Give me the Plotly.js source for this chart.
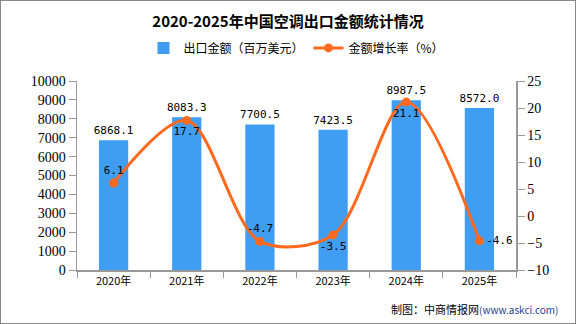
<!DOCTYPE html>
<html><head><meta charset="utf-8">
<script src="https://cdn.plot.ly/plotly-3.0.1.min.js"></script>
<style>html,body{margin:0;padding:0;background:#fff}#c{width:576px;height:324px;box-sizing:border-box;border:1px solid #888}</style>
</head><body><div id="c"></div>
<script>
const years = ["2020年","2021年","2022年","2023年","2024年","2025年"];
const exportValue = [6868.1, 8083.3, 7700.5, 7423.5, 8987.5, 8572.0];
const growthRate = [6.1, 17.7, -4.7, -3.5, 21.1, -4.6];
const growthPos = ["top center","bottom center","top center","bottom center","bottom center","middle right"];

const bar = {
  type:"bar", x:years, y:exportValue, name:"出口金额（百万美元）",
  marker:{color:"#409EF2"}, width:0.4,
  text:exportValue.map(v=>v.toFixed(1)), textposition:"outside", cliponaxis:false, constraintext:"none",
  textfont:{family:"DejaVu Sans Mono", size:11, color:"#000"}, hoverinfo:"none"
};
const line = {
  type:"scatter", mode:"lines+markers+text", x:years, y:growthRate, yaxis:"y2",
  name:"金额增长率（%）",
  line:{color:"#FF6A1F", width:3, shape:"spline", smoothing:0.9},
  marker:{color:"#FF6A1F", size:9},
  text:growthRate.map(v=>v.toFixed(1)), textposition:growthPos, cliponaxis:false,
  textfont:{family:"DejaVu Sans Mono", size:11, color:"#000"}
};
const layout = {
  width:574, height:322,
  margin:{l:76, r:59, t:80, b:53},
  paper_bgcolor:"#fff", plot_bgcolor:"rgba(0,0,0,0)",
  title:{text:"<b>2020-2025年中国空调出口金额统计情况</b>", x:0.5, xanchor:"center", y:0.935, yanchor:"middle",
    font:{family:"Noto Sans CJK SC", size:15, color:"#000"}},
  showlegend:true,
  legend:{orientation:"h", x:0.5, xanchor:"center", y:1.175, yanchor:"middle",
    font:{family:"Noto Sans CJK SC", size:12, color:"#000"}, traceorder:"normal"},
  xaxis:{type:"category", showline:true, linecolor:"#999", linewidth:1.5, ticks:"outside", tickson:"boundaries",
    ticklen:6, tickcolor:"#999", tickfont:{family:"Noto Sans CJK SC", size:11, color:"#000"}, showgrid:false},
  yaxis:{range:[0,10000], dtick:1000, tickformat:"d", showline:true, linecolor:"#999", linewidth:1.5, ticks:"outside", ticklen:7,
    tickcolor:"#999", showgrid:false, zeroline:false, tickfont:{family:"Liberation Serif", size:14, color:"#000"}},
  yaxis2:{range:[-10,25], dtick:5, overlaying:"y", side:"right", showline:true, linecolor:"#999", linewidth:1.5,
    ticks:"outside", ticklen:7, tickcolor:"#999", showgrid:false, zeroline:false,
    tickfont:{family:"Liberation Serif", size:14, color:"#000"}},
  annotations:[
    {text:"制图：中商情报网<span style='color:#1F3F8F;font-size:10px'>(www.askci.com)</span>", xref:"paper", yref:"paper",
      x:1.1, xanchor:"right", y:-0.205, yanchor:"middle", showarrow:false,
      font:{family:"Noto Sans CJK SC", size:11, color:"#000"}}
  ]
};
Plotly.newPlot("c",[bar,line],layout,{displayModeBar:false,staticPlot:true});
</script></body></html>
